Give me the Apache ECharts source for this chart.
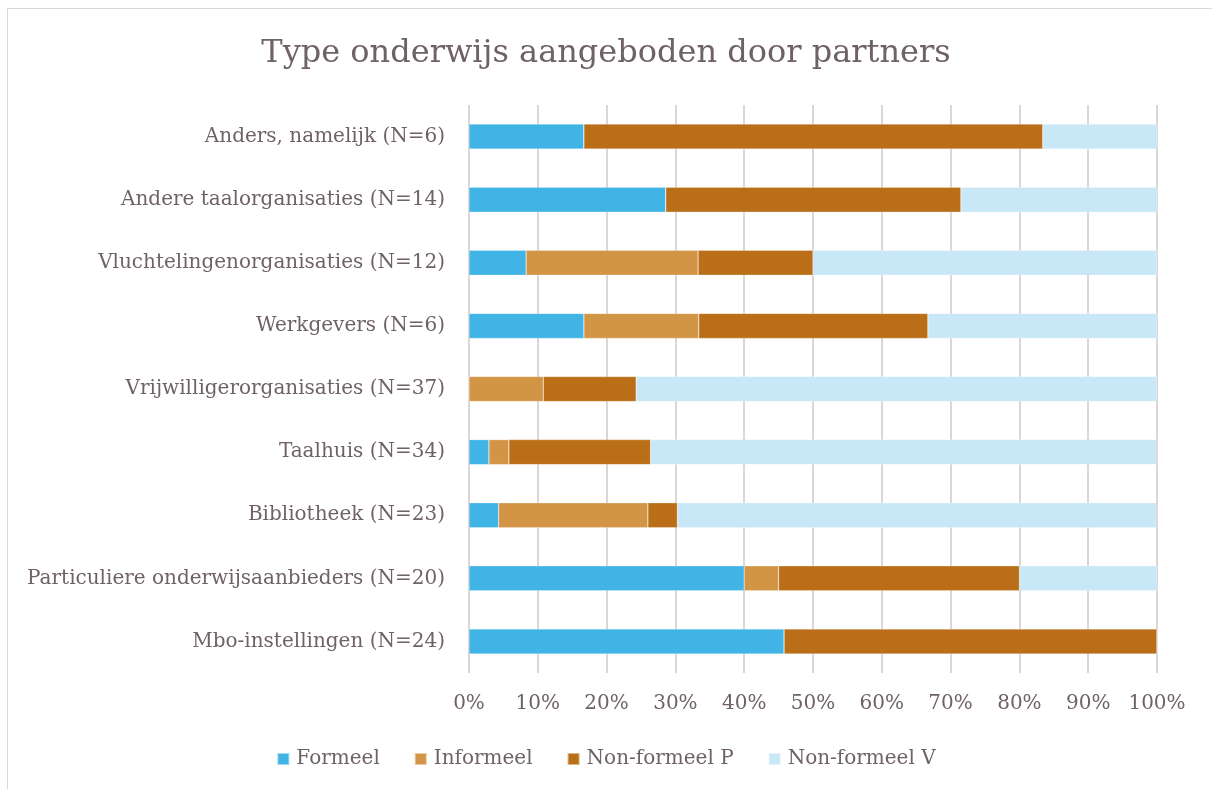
<!DOCTYPE html>
<html>
<head>
<meta charset="utf-8" />
<title>Type onderwijs aangeboden door partners</title>
<script src="https://cdn.jsdelivr.net/npm/echarts@6/dist/echarts.min.js"></script>
<style>
	html, body { margin: 0; padding: 0; background: #fff; }
	#frame { position: absolute; left: 7px; top: 8px; width: 1300px; height: 900px; border-left: 1px solid #d9d9d9; border-top: 1px solid #d9d9d9; }
	#chart { position: absolute; left: 0; top: 0; width: 1212px; height: 789px; }
</style>
</head>
<body>
<div id="frame"></div>
<div id="chart"></div>
<script>
	// categories, bottom to top
	var categories = ['Mbo-instellingen (N=24)', 'Particuliere onderwijsaanbieders (N=20)', 'Bibliotheek (N=23)',
		'Taalhuis (N=34)', 'Vrijwilligerorganisaties (N=37)', 'Werkgevers (N=6)',
		'Vluchtelingenorganisaties (N=12)', 'Andere taalorganisaties (N=14)', 'Anders, namelijk (N=6)'];
	// percentages per category
	var formeel = [45.8, 40, 4.3, 2.9, 0, 16.7, 8.3, 28.6, 16.7];
	var informeel = [0, 5, 21.7, 2.9, 10.8, 16.7, 25, 0, 0];
	var nonFormeelP = [54.2, 35, 4.3, 20.6, 13.5, 33.3, 16.7, 42.9, 66.7];
	var nonFormeelV = [0, 20, 69.6, 73.5, 75.7, 33.3, 50, 28.6, 16.7];
	var xTicks = [0, 10, 20, 30, 40, 50, 60, 70, 80, 90, 100];

	var txt = '#6f6266';
	var font = 'DejaVu Serif';

	function bar(name, data, color) {
		return {
			name: name,
			type: 'bar',
			stack: 'all',
			barWidth: 25,
			data: data,
			itemStyle: { color: color, borderColor: 'rgba(255,255,255,0.5)', borderWidth: 0.5 }
		};
	}

	var chart = echarts.init(document.getElementById('chart'), null, { renderer: 'canvas' });
	chart.setOption({
		animation: false,
		textStyle: { fontFamily: font, color: txt },
		title: {
			text: 'Type onderwijs aangeboden door partners',
			left: 'center',
			top: 33,
			textStyle: { fontFamily: font, fontSize: 32, fontWeight: 'normal', color: txt }
		},
		legend: {
			bottom: 15,
			left: 'center',
			itemWidth: 12,
			itemHeight: 12,
			itemGap: 34,
			icon: 'rect',
			textStyle: { fontFamily: font, fontSize: 20, color: txt, padding: [0, 0, 0, 2] }
		},
		grid: { left: 469, right: 55, top: 105, bottom: 116 },
		xAxis: {
			type: 'value',
			min: 0,
			max: 100,
			interval: 10,
			axisLine: { show: false },
			axisTick: { show: false },
			splitLine: { show: true, lineStyle: { color: '#dcd6d8', width: 2 } },
			axisLabel: {
				margin: 21,
				fontFamily: font,
				fontSize: 20,
				color: txt,
				formatter: function (v) { return xTicks.indexOf(v) >= 0 ? v + '%' : ''; }
			}
		},
		yAxis: {
			type: 'category',
			data: categories,
			axisLine: { show: false },
			axisTick: { show: false },
			axisLabel: { margin: 24, fontFamily: font, fontSize: 20, color: txt }
		},
		series: [
			bar('Formeel', formeel, '#41b4e6'),
			bar('Informeel', informeel, '#d29545'),
			bar('Non-formeel P', nonFormeelP, '#b96e17'),
			bar('Non-formeel V', nonFormeelV, '#c8e7f7')
		]
	});

	window.onresize = function () {
		chart.resize();
	};
</script>
</body>
</html>
